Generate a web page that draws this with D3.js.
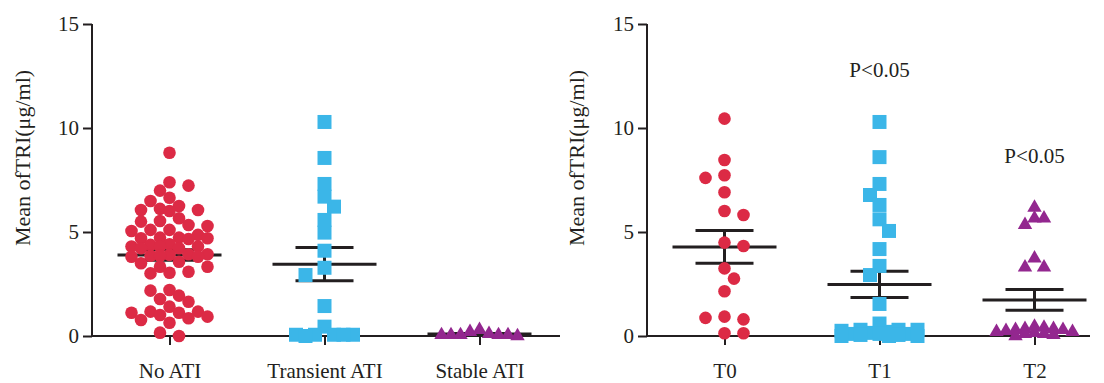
<!DOCTYPE html>
<html>
<head>
<meta charset="utf-8">
<script src="https://cdn.jsdelivr.net/npm/d3@7"></script>
<style>
  html, body { margin: 0; padding: 0; background: #fff; }
  svg { display: block; }
  text { font-family: 'Liberation Serif', 'DejaVu Serif', serif; fill: #231f20; }
</style>
</head>
<body>
<svg id="chart" width="1104" height="383"></svg>
<script>
// groups, left panel
const leftCats = ['No ATI', 'Transient ATI', 'Stable ATI'];
const noAti = [
  8.81, 7.39, 7.23, 6.99, 6.65, 6.49, 6.25, 6.11, 6.06, 6.06, 6.01, 5.66, 5.53, 5.5, 5.34, 5.29, 5.1, 5.05, 5.1,
  4.73, 4.66, 4.73, 4.86, 4.7, 4.7, 4.41, 4.3, 4.22, 4.38, 4.22, 4.3, 4.3,
  3.86, 3.9, 3.93, 3.81, 3.86, 3.81, 3.93, 3.33, 3.5, 3.57, 3.09, 3.33, 3.01, 3.04,
  2.21, 2.18, 1.94, 1.78, 1.65, 1.41, 1.17, 1.12, 1.17, 1.12, 0.93, 1.01, 0.85, 0.77, 0.64, 0.0, 0.16
];
const transientAti = [10.29, 8.56, 7.31, 6.7, 6.22, 5.58, 4.97, 4.1, 3.28, 2.93, 1.44, 0.45, 0.06, 0.06, 0.0, 0.06, 0.06, 0.06];
const stableAti = [0.1, 0.3, 0.05, 0.05, 0.0, 0.05, 0.05, 0.2, 0.05];

// groups, right panel
const rightCats = ['T0', 'T1', 'T2'];
const t0 = [10.45, 8.46, 7.6, 7.73, 6.91, 5.82, 6.01, 4.49, 4.33, 3.25, 2.76, 2.15, 0.93, 0.8, 0.87, 0.13, 0.13];
const t1 = [10.29, 8.6, 7.31, 6.78, 6.3, 5.61, 5.05, 4.18, 3.37, 2.93, 1.54,
  0.6, 0.3, 0.3, 0.1, 0.05, 0.0, 0.15, 0.05, 0.0, 0.2, 0.1, 0.25, 0.0, 0.1, 0.3];
const t2 = [5.66, 5.34, 5.66, 6.17, 3.3, 3.3, 3.73,
  0.4, 0.2, 0.3, 0.1, 0.35, 0.15, 0.0, 0.25, 0.1, 0.05, 0.3, 0.2, 0.45, 0.35];
const pLabels = ['', 'P<0.05', 'P<0.05'];

const yTicks = [0, 5, 10, 15];
const yTitle = 'Mean ofTRI(μg/ml)';

const ink = '#231f20';
const red = '#dc2a45';
const blue = '#3bb6e8';
const purple = '#93278f';

const svg = d3.select('#chart');
const y = d3.scaleLinear().domain([0, 15]).range([336, 24]);

// column scatter: each point goes to the nearest free slot, slots are
// limited to +-maxOff; when all are taken it picks the least crowded one
function swarm(values, cx, minDist, step, maxOff) {
  const placed = [];
  const n = Math.floor(maxOff / step);
  values.map((v, i) => ({ v, i }))
    .sort((a, b) => b.v - a.v)
    .forEach((p, idx) => {
      const py = y(p.v);
      const side = idx % 2 ? -1 : 1;
      const offs = [0];
      for (let k = 1; k <= n; k++) { offs.push(side * k * step, -side * k * step); }
      let best = null;
      let bestD = -1;
      for (const off of offs) {
        const d = placed.length ? d3.min(placed, q => Math.hypot(q.x - (cx + off), q.y - py)) : Infinity;
        if (d >= minDist) { best = off; break; }
        if (d > bestD) { bestD = d; best = off; }
      }
      placed.push({ x: cx + best, y: py, v: p.v });
    });
  return placed;
}

function panel(cfg) {
  const x = d3.scalePoint().domain(cfg.cats).range([cfg.x0, cfg.x0 + 465]).padding(0.5);
  const g = svg.append('g');

  // y axis
  const yAxis = g.append('g')
    .attr('transform', `translate(${ cfg.x0 },0)`)
    .call(d3.axisLeft(y).tickValues(yTicks).tickSize(9).tickPadding(4).tickFormat(d3.format('d')));
  yAxis.select('.domain').attr('stroke', ink).attr('stroke-width', 2).attr('d', `M0,${ y(15) }V${ y(0) }`);
  yAxis.selectAll('.tick line').attr('stroke', ink).attr('stroke-width', 2);
  yAxis.selectAll('.tick text').attr('font-size', 21).attr('fill', ink);

  // x axis
  const xAxis = g.append('g')
    .attr('transform', `translate(0,${ y(0) })`)
    .call(d3.axisBottom(x).tickSize(9).tickPadding(18));
  xAxis.select('.domain').attr('stroke', ink).attr('stroke-width', 2).attr('d', `M${ cfg.x0 },0H${ cfg.x1 }`);
  xAxis.selectAll('.tick line').attr('stroke', ink).attr('stroke-width', 2);
  xAxis.selectAll('.tick text').attr('font-size', 21).attr('fill', ink);

  g.append('text')
    .attr('transform', `translate(${ cfg.titleX },${ (y(15) + y(0)) / 2 - 22 }) rotate(-90)`)
    .attr('text-anchor', 'middle')
    .attr('dominant-baseline', 'central')
    .attr('font-size', 22)
    .text(yTitle);

  cfg.groups.forEach((vals, i) => {
    const cx = x(cfg.cats[i]);
    const m = d3.mean(vals);
    const sem = d3.deviation(vals) / Math.sqrt(vals.length);

    const eb = g.append('g').attr('stroke', ink).attr('stroke-width', 3);
    eb.append('line').attr('x1', cx - 52).attr('x2', cx + 52).attr('y1', y(m)).attr('y2', y(m));
    eb.append('line').attr('x1', cx - 29).attr('x2', cx + 29).attr('y1', y(m + sem)).attr('y2', y(m + sem));
    eb.append('line').attr('x1', cx - 29).attr('x2', cx + 29).attr('y1', y(m - sem)).attr('y2', y(m - sem));
    eb.append('line').attr('x1', cx).attr('x2', cx).attr('y1', y(m + sem)).attr('y2', y(m - sem));

    const mk = cfg.marks[i];
    const pts = swarm(vals, cx, mk.dist, 9.5, 40);
    g.append('g').selectAll('path')
      .data(pts)
      .join('path')
      .attr('transform', d => `translate(${ d.x },${ d.y })`)
      .attr('d', d3.symbol().type(mk.type).size(mk.size))
      .attr('fill', mk.color);

    if (cfg.notes && cfg.notes[i]) {
      g.append('text')
        .attr('x', cx)
        .attr('y', y(d3.max(vals)) - 45)
        .attr('text-anchor', 'middle')
        .attr('font-size', 21)
        .text(cfg.notes[i]);
    }
  });
}

const marks = [
  { type: d3.symbolCircle, size: Math.PI * 6.3 * 6.3, color: red, dist: 11 },
  { type: d3.symbolSquare, size: 196, color: blue, dist: 12 },
  { type: d3.symbolTriangle, size: 90, color: purple, dist: 9 }
];

panel({ cats: leftCats, groups: [noAti, transientAti, stableAti], x0: 92, x1: 560, titleX: 22, marks });
panel({ cats: rightCats, groups: [t0, t1, t2], x0: 647, x1: 1090, titleX: 576, marks, notes: pLabels });
</script>
</body>
</html>
